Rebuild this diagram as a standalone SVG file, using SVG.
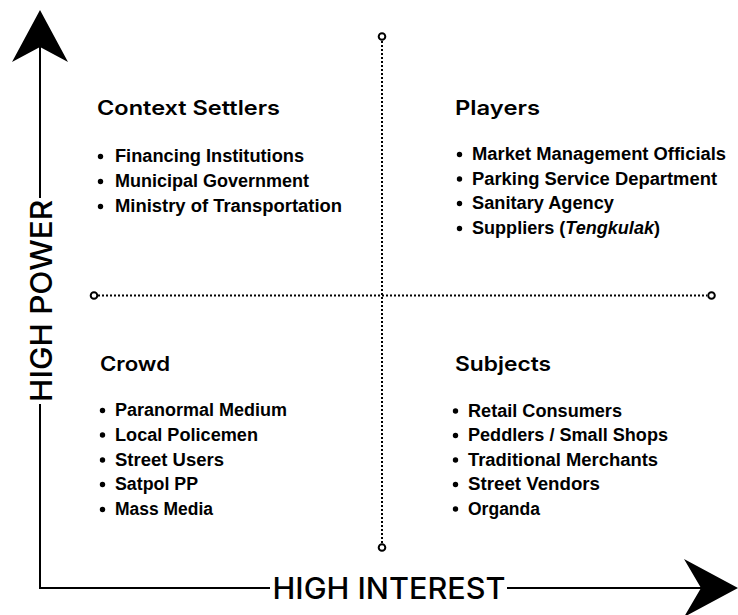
<svg xmlns="http://www.w3.org/2000/svg" width="738" height="615" viewBox="0 0 738 615">
  <style>
    .axis { stroke: #000; stroke-width: 2; fill: none; }
    .dot { stroke: #000; stroke-width: 2; stroke-dasharray: 2 2; fill: none; }
    .end { stroke: #000; stroke-width: 2; fill: #fff; }
    .head { fill: #000; }
    .axlabel { font-family: Inter, "Liberation Sans", sans-serif; font-weight: 500; font-size: 30px; fill: #000; }
    .title { font-family: Inter, "Liberation Sans", sans-serif; font-weight: 600; font-size: 20px; fill: #000; }
    .item { font-family: "Liberation Sans", Arial, sans-serif; font-weight: bold; font-size: 17.5px; fill: #000; }
    .bullet { fill: #000; }
  </style>
  <rect width="738" height="615" fill="#fff"/>

  <g id="connectors">
    <line class="axis" x1="40" y1="46" x2="40" y2="198"/>
    <line class="axis" x1="40" y1="404" x2="40" y2="588"/>
    <polygon class="head" points="40,10 68,62 40,47 12,62"/>
    <line class="axis" x1="39" y1="588" x2="270" y2="588"/>
    <line class="axis" x1="507" y1="588" x2="702" y2="588"/>
    <polygon class="head" points="738,588 684,559 701,588 684,617"/>
    <line class="dot" x1="382" y1="41" x2="382" y2="543"/>
    <line class="dot" x1="98" y1="295.5" x2="707" y2="295.5"/>
    <circle class="end" cx="382" cy="36.5" r="3.3"/>
    <circle class="end" cx="382" cy="547.5" r="3.3"/>
    <circle class="end" cx="94" cy="295.5" r="3.3"/>
    <circle class="end" cx="711.5" cy="295.5" r="3.3"/>
  </g>

  <g id="axis-power">
    <text class="axlabel" transform="translate(51.5,301) rotate(-90)" text-anchor="middle" textLength="202" lengthAdjust="spacingAndGlyphs">HIGH POWER</text>
  </g>
  <g id="axis-interest">
    <text class="axlabel" x="389" y="599" text-anchor="middle" textLength="233" lengthAdjust="spacingAndGlyphs">HIGH INTEREST</text>
  </g>

  <g id="context-settlers">
    <text class="title" x="97" y="115" textLength="183" lengthAdjust="spacingAndGlyphs">Context Settlers</text>
    <circle class="bullet" cx="100.5" cy="156.5" r="2.7"/>
    <text class="item" x="115" y="162" textLength="189" lengthAdjust="spacingAndGlyphs">Financing Institutions</text>
    <circle class="bullet" cx="100.5" cy="181.5" r="2.7"/>
    <text class="item" x="115" y="187" textLength="194" lengthAdjust="spacingAndGlyphs">Municipal Government</text>
    <circle class="bullet" cx="100.5" cy="206.5" r="2.7"/>
    <text class="item" x="115" y="212" textLength="227" lengthAdjust="spacingAndGlyphs">Ministry of Transportation</text>
  </g>

  <g id="players">
    <text class="title" x="455" y="115" textLength="85" lengthAdjust="spacingAndGlyphs">Players</text>
    <circle class="bullet" cx="459.5" cy="154.5" r="2.7"/>
    <text class="item" x="472" y="160" textLength="254" lengthAdjust="spacingAndGlyphs">Market Management Officials</text>
    <circle class="bullet" cx="459.5" cy="179" r="2.7"/>
    <text class="item" x="472" y="184.5" textLength="245" lengthAdjust="spacingAndGlyphs">Parking Service Department</text>
    <circle class="bullet" cx="459.5" cy="203.5" r="2.7"/>
    <text class="item" x="472" y="209" textLength="142" lengthAdjust="spacingAndGlyphs">Sanitary Agency</text>
    <circle class="bullet" cx="459.5" cy="228.5" r="2.7"/>
    <text class="item" x="472" y="234" textLength="188" lengthAdjust="spacingAndGlyphs">Suppliers (<tspan font-style="italic">Tengkulak</tspan>)</text>
  </g>

  <g id="crowd">
    <text class="title" x="100" y="371" textLength="70" lengthAdjust="spacingAndGlyphs">Crowd</text>
    <circle class="bullet" cx="102.5" cy="410.5" r="2.7"/>
    <text class="item" x="115" y="416" textLength="172" lengthAdjust="spacingAndGlyphs">Paranormal Medium</text>
    <circle class="bullet" cx="102.5" cy="435" r="2.7"/>
    <text class="item" x="115" y="440.5" textLength="143" lengthAdjust="spacingAndGlyphs">Local Policemen</text>
    <circle class="bullet" cx="102.5" cy="460" r="2.7"/>
    <text class="item" x="115" y="465.5" textLength="109" lengthAdjust="spacingAndGlyphs">Street Users</text>
    <circle class="bullet" cx="102.5" cy="484.5" r="2.7"/>
    <text class="item" x="115" y="490" textLength="83" lengthAdjust="spacingAndGlyphs">Satpol PP</text>
    <circle class="bullet" cx="102.5" cy="509.5" r="2.7"/>
    <text class="item" x="115" y="515" textLength="98" lengthAdjust="spacingAndGlyphs">Mass Media</text>
  </g>

  <g id="subjects">
    <text class="title" x="455" y="371" textLength="96" lengthAdjust="spacingAndGlyphs">Subjects</text>
    <circle class="bullet" cx="455.5" cy="411" r="2.7"/>
    <text class="item" x="468" y="416.5" textLength="154" lengthAdjust="spacingAndGlyphs">Retail Consumers</text>
    <circle class="bullet" cx="455.5" cy="435.5" r="2.7"/>
    <text class="item" x="468" y="441" textLength="200" lengthAdjust="spacingAndGlyphs">Peddlers / Small Shops</text>
    <circle class="bullet" cx="455.5" cy="460" r="2.7"/>
    <text class="item" x="468" y="465.5" textLength="190" lengthAdjust="spacingAndGlyphs">Traditional Merchants</text>
    <circle class="bullet" cx="455.5" cy="484.5" r="2.7"/>
    <text class="item" x="468" y="490" textLength="132" lengthAdjust="spacingAndGlyphs">Street Vendors</text>
    <circle class="bullet" cx="455.5" cy="509" r="2.7"/>
    <text class="item" x="468" y="514.5" textLength="72" lengthAdjust="spacingAndGlyphs">Organda</text>
  </g>
</svg>
